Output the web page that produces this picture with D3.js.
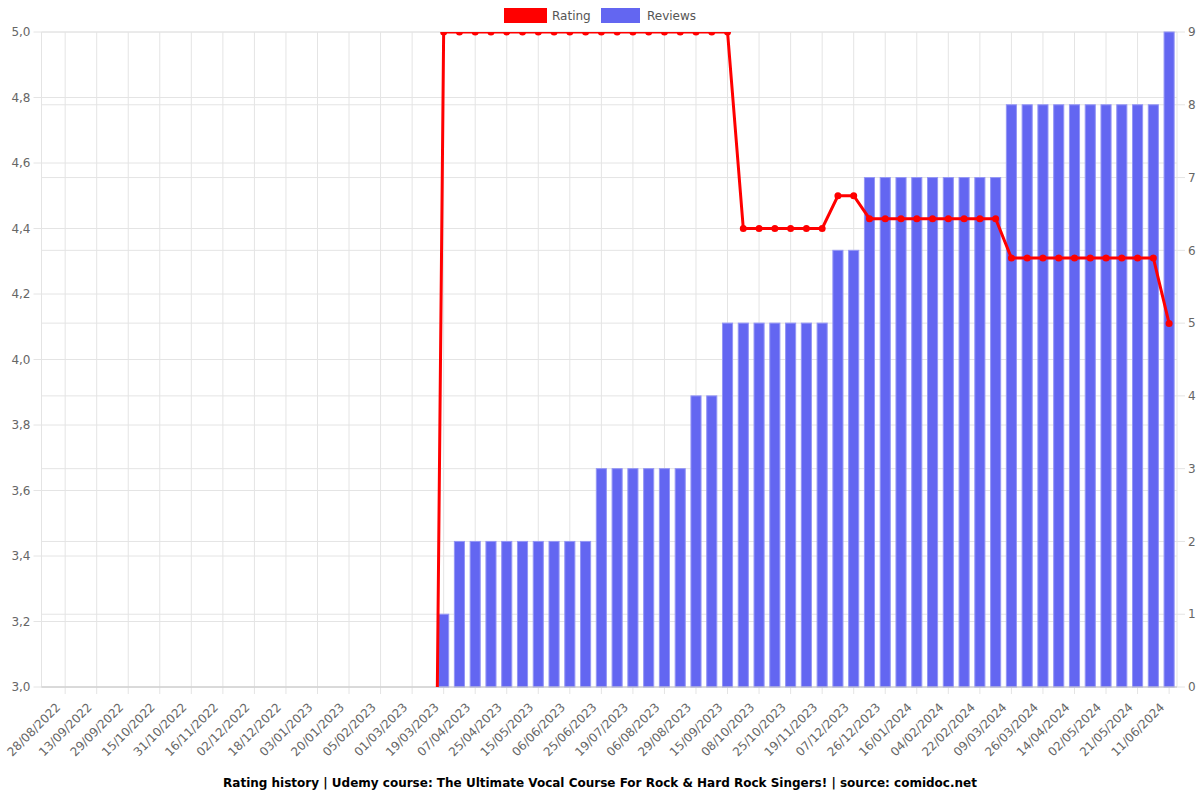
<!doctype html>
<html>
<head>
<meta charset="utf-8">
<title>Rating history</title>
<style>
  body { margin: 0; background: #fff; font-family: "DejaVu Sans", sans-serif; }
  svg text { font-family: "DejaVu Sans", sans-serif; }
</style>
<script src="https://d3js.org/d3.v7.min.js"></script>
</head>
<body>
<div id="plot"></div>
<script>
// labels shown on the x axis (every other slot, slots 1,3,...,71)
const tickLabels = ["28/08/2022","13/09/2022","29/09/2022","15/10/2022","31/10/2022","16/11/2022",
  "02/12/2022","18/12/2022","03/01/2023","20/01/2023","05/02/2023","01/03/2023","19/03/2023",
  "07/04/2023","25/04/2023","15/05/2023","06/06/2023","25/06/2023","19/07/2023","06/08/2023",
  "29/08/2023","15/09/2023","08/10/2023","25/10/2023","19/11/2023","07/12/2023","26/12/2023",
  "16/01/2024","04/02/2024","22/02/2024","09/03/2024","26/03/2024","14/04/2024","02/05/2024",
  "21/05/2024","11/06/2024"];

const rating = [0,0,0,0,0,0,0,0,0,0, 0,0,0,0,0,0,0,0,0,0, 0,0,0,0,0,
  5,5,5,5,5,5,5,5,5,5, 5,5,5,5,5,5,5,5,5,
  4.4,4.4,4.4,4.4,4.4,4.4,
  4.5,4.5,
  4.43,4.43,4.43,4.43,4.43,4.43,4.43,4.43,4.43,
  4.31,4.31,4.31,4.31,4.31,4.31,4.31,4.31,4.31,4.31,
  4.11];

const reviews = [0,0,0,0,0,0,0,0,0,0, 0,0,0,0,0,0,0,0,0,0, 0,0,0,0,0,
  1,
  2,2,2,2,2,2,2,2,2,
  3,3,3,3,3,3,
  4,4,
  5,5,5,5,5,5,5,
  6,6,
  7,7,7,7,7,7,7,7,7,
  8,8,8,8,8,8,8,8,8,8,
  9];

const leftTicks = [3.0, 3.2, 3.4, 3.6, 3.8, 4.0, 4.2, 4.4, 4.6, 4.8, 5.0];
const rightTicks = [0,1,2,3,4,5,6,7,8,9];

const W = 1200, H = 800;
const area = {left: 41.5, right: 1177, top: 32, bottom: 687};

const svg = d3.select("#plot").append("svg")
  .attr("width", W).attr("height", H);

const slots = d3.range(rating.length);

const x = d3.scaleBand()
  .domain(slots)
  .range([area.left, area.right]);

const yL = d3.scaleLinear().domain([3, 5]).range([area.bottom, area.top]);
const yR = d3.scaleLinear().domain([0, 9]).range([area.bottom, area.top]);

const cx = i => x(i) + x.bandwidth() / 2;
const gridCol = "#e4e4e4";
const textCol = "#666";

// grids
const grid = svg.append("g");
grid.selectAll("line.gl").data(leftTicks).enter().append("line")
  .attr("x1", area.left - 8).attr("x2", area.right)
  .attr("y1", d => yL(d)).attr("y2", d => yL(d))
  .attr("stroke", gridCol);
grid.selectAll("line.gr").data(rightTicks).enter().append("line")
  .attr("x1", area.left).attr("x2", area.right + 8)
  .attr("y1", d => yR(d)).attr("y2", d => yR(d))
  .attr("stroke", gridCol);
const labelSlots = slots.filter(i => i % 2 == 1);
grid.selectAll("line.gx").data(labelSlots).enter().append("line")
  .attr("x1", d => cx(d)).attr("x2", d => cx(d))
  .attr("y1", area.top).attr("y2", area.bottom + 7)
  .attr("stroke", gridCol);
grid.append("line")
  .attr("x1", area.left).attr("x2", area.left)
  .attr("y1", area.top).attr("y2", area.bottom)
  .attr("stroke", gridCol);
grid.append("line")
  .attr("x1", area.right).attr("x2", area.right)
  .attr("y1", area.top).attr("y2", area.bottom)
  .attr("stroke", gridCol);

// bars
svg.append("g").selectAll("rect").data(slots.filter(i => reviews[i] > 0)).enter().append("rect")
  .attr("x", d => cx(d) - x.bandwidth() * 0.32)
  .attr("width", x.bandwidth() * 0.64)
  .attr("y", d => yR(reviews[d]))
  .attr("height", d => area.bottom - yR(reviews[d]))
  .attr("fill", "#6366f1")
  .attr("stroke", "#9496f5")
  .attr("stroke-width", 1);

// bottom axis line
svg.append("line")
  .attr("x1", area.left).attr("x2", area.right)
  .attr("y1", area.bottom).attr("y2", area.bottom)
  .attr("stroke", "#c8c8c8");

// rating line
svg.append("clipPath").attr("id", "clip").append("rect")
  .attr("x", area.left).attr("y", area.top)
  .attr("width", area.right - area.left + 6).attr("height", area.bottom - area.top);

const lineG = svg.append("g").attr("clip-path", "url(#clip)");
lineG.append("path")
  .datum(slots)
  .attr("fill", "none")
  .attr("stroke", "#ff0000")
  .attr("stroke-width", 3)
  .attr("d", d3.line().x(d => cx(d)).y(d => yL(rating[d])));
lineG.selectAll("circle").data(slots.filter(i => rating[i] > 0)).enter().append("circle")
  .attr("cx", d => cx(d)).attr("cy", d => yL(rating[d]))
  .attr("r", 3.5)
  .attr("fill", "#ff0000");

// left axis labels
svg.append("g").selectAll("text").data(leftTicks).enter().append("text")
  .attr("x", area.left - 11).attr("y", d => yL(d)).attr("dy", "0.35em")
  .attr("text-anchor", "end").attr("fill", textCol).style("font-size", "12px")
  .text(d => d3.format(".1f")(d).replace(".", ","));

// right axis labels
svg.append("g").selectAll("text").data(rightTicks).enter().append("text")
  .attr("x", area.right + 11).attr("y", d => yR(d)).attr("dy", "0.35em")
  .attr("text-anchor", "start").attr("fill", textCol).style("font-size", "12px")
  .text(d => d);

// x labels
svg.append("g").selectAll("text").data(labelSlots).enter().append("text")
  .attr("transform", d => `translate(${cx(d) - 7},${area.bottom + 18}) rotate(-45)`)
  .attr("dy", "0.35em")
  .attr("text-anchor", "end").attr("fill", textCol).style("font-size", "12px")
  .text((d, i) => tickLabels[i]);

// legend
const legend = svg.append("g");
legend.append("rect").attr("x", 504).attr("y", 8).attr("width", 43).attr("height", 15).attr("fill", "#ff0000");
legend.append("text").attr("x", 552).attr("y", 16).attr("dy", "0.35em")
  .attr("fill", "#555").style("font-size", "12px").text("Rating");
legend.append("rect").attr("x", 601).attr("y", 8).attr("width", 39).attr("height", 15).attr("fill", "#6366f1");
legend.append("text").attr("x", 647).attr("y", 16).attr("dy", "0.35em")
  .attr("fill", "#555").style("font-size", "12px").text("Reviews");

// title
svg.append("text")
  .attr("x", 600).attr("y", 783).attr("dy", "0.35em")
  .attr("text-anchor", "middle")
  .style("font-size", "12px").style("font-weight", "bold").attr("fill", "#000")
  .text("Rating history | Udemy course: The Ultimate Vocal Course For Rock & Hard Rock Singers! | source: comidoc.net");
</script>
</body>
</html>
